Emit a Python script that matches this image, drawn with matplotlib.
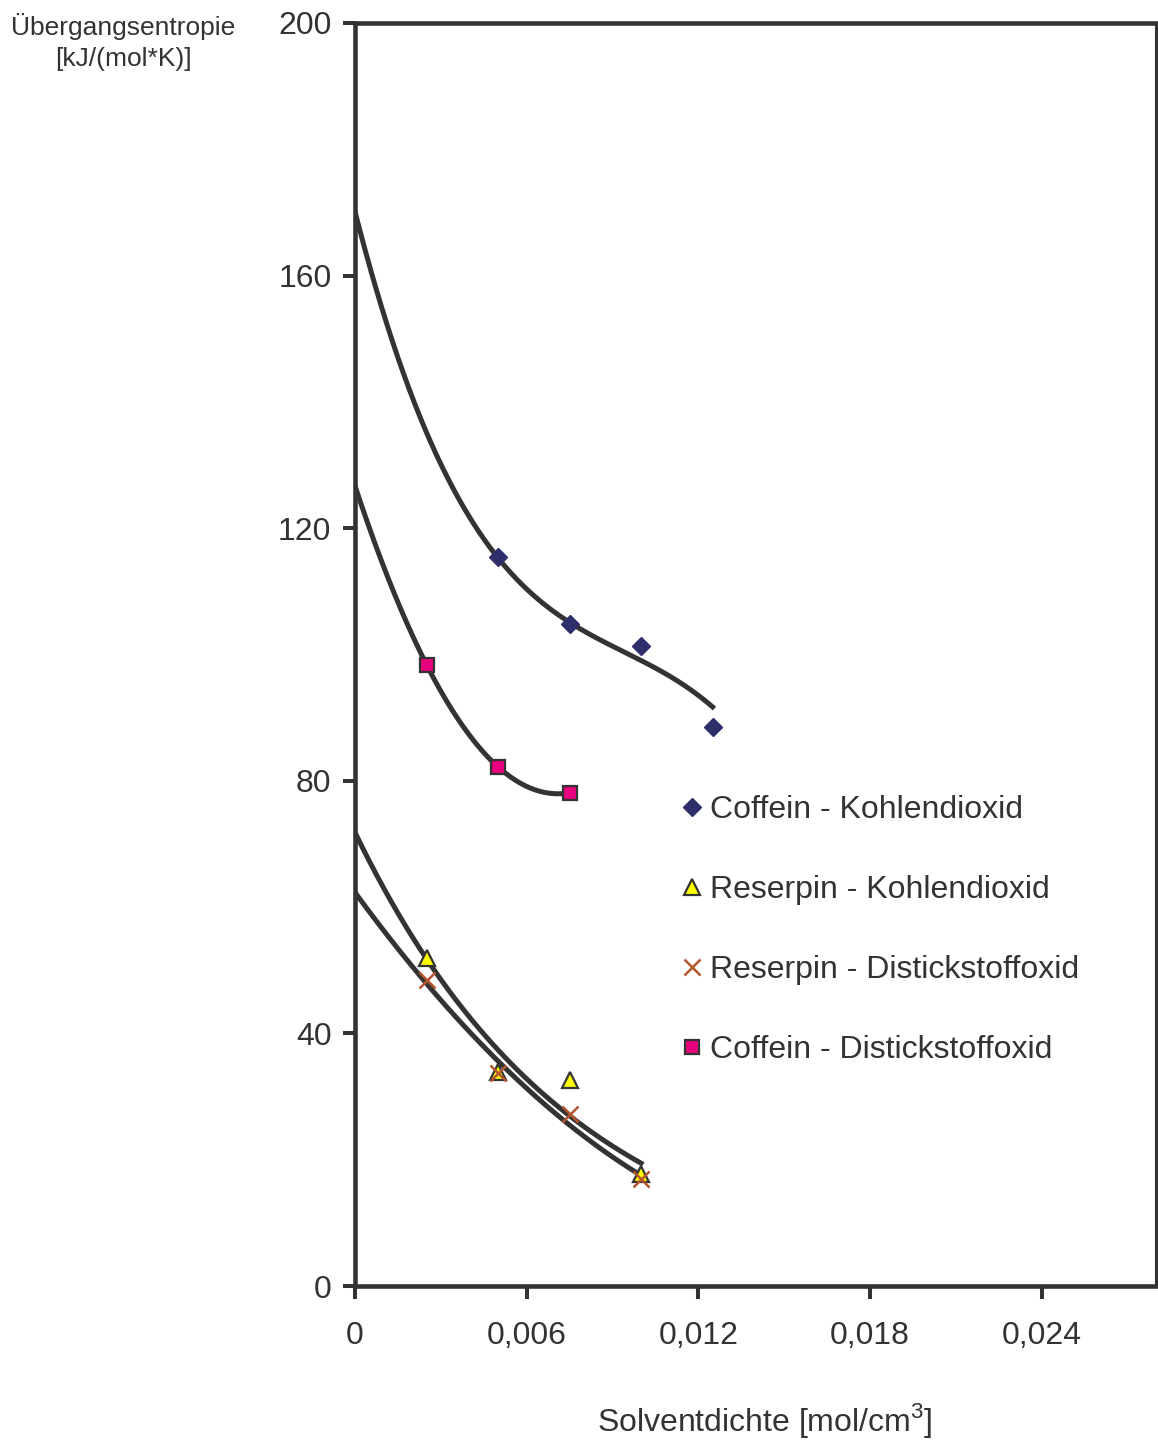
import numpy as np
import matplotlib
matplotlib.use('Agg')
import matplotlib.pyplot as plt
from matplotlib.lines import Line2D

plt.rcParams['font.family'] = ['Liberation Sans', 'DejaVu Sans']
plt.rcParams['mathtext.fontset'] = 'custom'
plt.rcParams['mathtext.rm'] = 'Liberation Sans'

# Messwerte
x_cc = [0.005, 0.0075, 0.01, 0.0125]
y_cc = [115.5, 104.9, 101.4, 88.5]          # Coffein - Kohlendioxid

x_rc = [0.0025, 0.005, 0.0075, 0.01]
y_rc = [51.9, 33.9, 32.6, 17.7]             # Reserpin - Kohlendioxid

x_rn = [0.0025, 0.005, 0.0075, 0.01]
y_rn = [48.5, 33.8, 27.3, 16.9]             # Reserpin - Distickstoffoxid

x_cn = [0.0025, 0.005, 0.0075]
y_cn = [98.4, 82.2, 78.1]                   # Coffein - Distickstoffoxid

# Trendlinie Coffein - Kohlendioxid
x_cc_trend = [0, 0.00063, 0.00182, 0.00297, 0.00412, 0.00496, 0.00646,
              0.00751, 0.00881, 0.00996, 0.01111, 0.01251]
y_cc_trend = [169.9, 159.7, 143.4, 130.2, 120.7, 115.3, 109.0,
              104.9, 101.7, 99.1, 96.4, 91.6]

x_ticks = [0, 0.006, 0.012, 0.018, 0.024]
x_ticklabels = ['0', '0,006', '0,012', '0,018', '0,024']
y_ticks = [0, 40, 80, 120, 160, 200]

dark = '#333333'

fig = plt.figure(figsize=(11.58, 14.42), dpi=100)
ax = fig.add_axes([355 / 1158, 1 - 1286 / 1442, 801 / 1158, 1263 / 1442])

# Trendlinien
p = np.polyfit(x_cc_trend, y_cc_trend, 3)
xs = np.linspace(0, 0.0125, 200)
ax.plot(xs, np.polyval(p, xs), color=dark, lw=3.6, zorder=2)

p = np.polyfit(x_cn, y_cn, 2)
xs = np.linspace(0, 0.0075, 200)
ax.plot(xs, np.polyval(p, xs), color=dark, lw=3.6, zorder=2)

# Reserpin - CO2: exponentiell, Reserpin - N2O: Polynom 2. Ordnung
p = np.polyfit(x_rc, np.log(y_rc), 1)
xs = np.linspace(0, 0.01, 200)
ax.plot(xs, np.exp(np.polyval(p, xs)), color=dark, lw=3.6, zorder=2)

p = np.polyfit(x_rn, y_rn, 2)
xs = np.linspace(0, 0.01, 200)
ax.plot(xs, np.polyval(p, xs), color=dark, lw=3.6, zorder=2)

# Messpunkte
ax.plot(x_cc, y_cc, 'D', color='#2e2e6b', ms=9.5, mec='#2e2e6b', zorder=3)
ax.plot(x_rc, y_rc, '^', color='#ffff00', ms=11, mec=dark, mew=1.6, zorder=3)
ax.plot(x_rn, y_rn, 'x', color='#b5552e', ms=12, mew=1.8, zorder=3)
ax.plot(x_cn, y_cn, 's', color='#e6007e', ms=10, mec=dark, mew=1.6, zorder=3)

ax.set_xlim(0, 0.028)
ax.set_ylim(0, 200)
ax.set_xticks(x_ticks)
ax.set_xticklabels(x_ticklabels)
ax.set_yticks(y_ticks)

for side in ['left', 'bottom', 'top']:
    ax.spines[side].set_linewidth(3.3)
    ax.spines[side].set_color(dark)
ax.spines['right'].set_linewidth(2.2)
ax.spines['right'].set_color(dark)

ax.tick_params(axis='both', direction='out', length=9, width=2.9, color=dark,
               labelsize=23, labelcolor=dark)
ax.tick_params(axis='x', pad=16)
ax.tick_params(axis='y', pad=8)

handles = [
    Line2D([], [], ls='none', marker='D', color='#2e2e6b', ms=9.5),
    Line2D([], [], ls='none', marker='^', color='#ffff00', mec=dark, mew=1.6, ms=11),
    Line2D([], [], ls='none', marker='x', color='#b5552e', mew=1.8, ms=12),
    Line2D([], [], ls='none', marker='s', color='#e6007e', mec=dark, mew=1.6, ms=10),
]
labels = ['Coffein - Kohlendioxid', 'Reserpin - Kohlendioxid',
          'Reserpin - Distickstoffoxid', 'Coffein - Distickstoffoxid']
leg = ax.legend(handles, labels, loc='upper left', bbox_to_anchor=(0.405, 0.389),
                frameon=False, fontsize=23, labelspacing=1.57, handlelength=0.8,
                handletextpad=0.15, borderpad=0, borderaxespad=0)
for t in leg.get_texts():
    t.set_color(dark)

fig.text(123 / 1158, 1 - 13 / 1442, 'Übergangsentropie\n[kJ/(mol*K)]',
         ha='center', va='top', fontsize=19, color=dark, linespacing=1.38)
fig.text(765 / 1158, 1 - 1440 / 1442, r'Solventdichte [mol/cm$^3$]',
         ha='center', va='bottom', fontsize=23, color=dark)

fig.savefig('out.png', dpi=100)
